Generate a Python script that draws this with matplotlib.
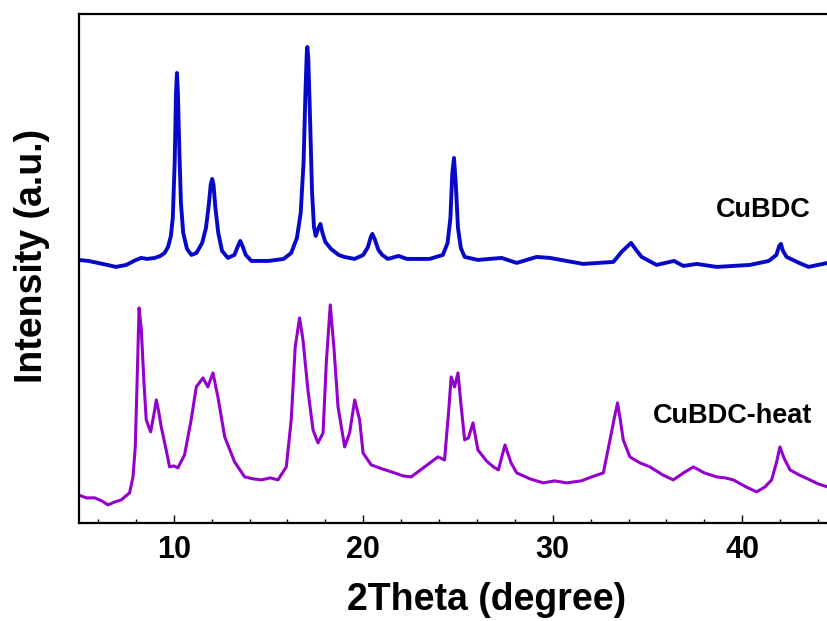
import numpy as np
import matplotlib
matplotlib.use("Agg")
import matplotlib.pyplot as plt

# XRD patterns (2theta in degree, intensity in a.u.)
cubdc_2theta = [4.95, 5.5, 6.0, 6.5, 6.95, 7.5, 7.9, 8.27, 8.6, 9.0, 9.3, 9.52, 9.7, 9.85,
                9.95, 10.05, 10.12, 10.17, 10.22, 10.3, 10.38, 10.5, 10.7, 10.93, 11.2,
                11.5, 11.7, 11.85, 11.95, 12.03, 12.1, 12.2, 12.35, 12.55, 12.86, 13.2,
                13.35, 13.51, 13.65, 13.8, 14.1, 15.0, 15.8, 16.2, 16.5, 16.7, 16.85,
                16.95, 17.02, 17.05, 17.1, 17.2, 17.3, 17.4, 17.49, 17.62, 17.74, 17.85,
                18.0, 18.3, 18.7, 19.0, 19.55, 20.0, 20.25, 20.4, 20.48, 20.6, 20.8,
                21.0, 21.3, 21.87, 22.3, 23.5, 24.2, 24.45, 24.6, 24.7, 24.79, 24.88,
                25.0, 25.15, 25.35, 26.05, 27.3, 28.1, 29.15, 29.85, 31.6, 33.2, 33.63,
                34.13, 34.4, 34.69, 35.48, 36.4, 36.89, 37.6, 38.65, 40.4, 41.4, 41.8,
                41.95, 42.04, 42.15, 42.34, 43.0, 43.5, 44.5]
cubdc_int = [263, 262, 260, 258, 256, 258, 262, 265, 264, 265, 267, 270, 276, 287,
             305, 360, 430, 450, 430, 370, 320, 290, 274, 268, 270,
             280, 295, 318, 338, 344, 338, 315, 290, 272, 265, 268,
             275, 282, 276, 268, 262, 262, 264, 270, 285, 310, 360,
             430, 470, 476, 465, 400, 330, 296, 287, 294, 299, 290,
             281, 274, 268, 266, 264, 268, 276, 286, 289, 284, 273,
             268, 264, 267, 264, 264, 268, 280, 305, 350, 365, 340,
             295, 275, 266, 263, 265, 260, 266, 265, 259, 261, 271,
             280, 273, 266, 258, 262, 257, 259, 256, 258, 262, 268,
             277, 279, 272, 266, 260, 256, 260]

heat_2theta = [4.95, 5.4, 5.83, 6.2, 6.53, 6.9, 7.23, 7.67, 7.85, 7.97, 8.08, 8.17, 8.29,
               8.43, 8.55, 8.78, 8.95, 9.08, 9.2, 9.34, 9.6, 9.78, 10.0, 10.22, 10.57,
               10.92, 11.19, 11.54, 11.8, 12.07, 12.33, 12.69, 13.21, 13.74, 14.2,
               14.62, 15.1, 15.5, 15.94, 16.2, 16.41, 16.64, 16.82, 17.08, 17.35,
               17.61, 17.88, 18.05, 18.26, 18.45, 18.67, 19.02, 19.28, 19.55, 19.81,
               19.99, 20.42, 21.0, 21.65, 22.1, 22.53, 23.24, 23.94, 24.29, 24.5,
               24.64, 24.82, 25.0, 25.17, 25.35, 25.55, 25.79, 26.05, 26.5, 26.87,
               27.13, 27.48, 27.8, 28.1, 28.8, 29.5, 30.1, 30.73, 31.5, 32.2, 32.67,
               33.02, 33.25, 33.42, 33.55, 33.72, 34.07, 34.6, 35.13, 35.8, 36.36,
               36.9, 37.42, 38.0, 38.65, 39.1, 39.53, 40.2, 40.76, 41.2, 41.55, 41.8,
               41.99, 42.2, 42.52, 43.0, 43.57, 44.0, 44.5]
heat_int = [28, 25, 25, 22, 18, 21, 23, 30, 46, 76, 150, 215, 193,
            140, 103, 91, 108, 123, 112, 96, 73, 56, 57, 55, 68,
            103, 136, 145, 136, 150, 126, 86, 61, 46, 44,
            43, 45, 43, 56, 103, 176, 205, 183, 133, 93,
            80, 90, 160, 218, 176, 116, 76, 90, 123, 103,
            70, 58, 54, 50, 47, 46, 56, 66, 63, 110,
            146, 136, 150, 116, 83, 85, 100, 73, 62, 56,
            53, 78, 60, 50, 44, 40, 42, 40, 42, 47, 50,
            83, 105, 120, 105, 83, 66, 60, 56, 48, 43,
            50, 56, 50, 46, 45, 43, 36, 31, 36, 43, 60,
            76, 65, 53, 48, 43, 39, 36]

fig = plt.figure(figsize=(8.27, 6.21), dpi=100)
# right spine sits just outside the picture, like the cropped original
ax = fig.add_axes([0.0955, 0.158, 0.9166, 0.8195])

ax.plot(cubdc_2theta, cubdc_int, color="#0808c8", lw=2.8, solid_joinstyle="round")
ax.plot(heat_2theta, heat_int, color="#9400cc", lw=2.2, solid_joinstyle="round")

ax.set_xlim(5, 45)
ax.set_ylim(0, 509)

ax.set_xticks([10, 20, 30, 40])
ax.set_xticks(np.arange(6, 45, 2), minor=True)
ax.set_yticks([])
ax.tick_params(axis="x", which="major", direction="in", length=5.5, width=1.0,
               pad=9, labelsize=22)
ax.tick_params(axis="x", which="minor", direction="in", length=2.8, width=1.0)
for lab in ax.get_xticklabels():
    lab.set_fontweight("bold")
    lab.set_family("Liberation Sans")
for s in ax.spines.values():
    s.set_linewidth(1.6)

font = dict(family="Liberation Sans", weight="bold")
ax.text(43.6, 313, "CuBDC", ha="right", va="center", fontsize=19.5, **font)
ax.text(43.7, 107, "CuBDC-heat", ha="right", va="center", fontsize=19.5, **font)

fig.text(487 / 827, 1 - 600 / 621, "2Theta (degree)", ha="center", va="center",
         fontsize=27, **font)
fig.text(32 / 827, 1 - 256 / 621, "Intensity (a.u.)", ha="center", va="center",
         rotation=90, fontsize=27, **font)

fig.savefig("out.png", dpi=100)
